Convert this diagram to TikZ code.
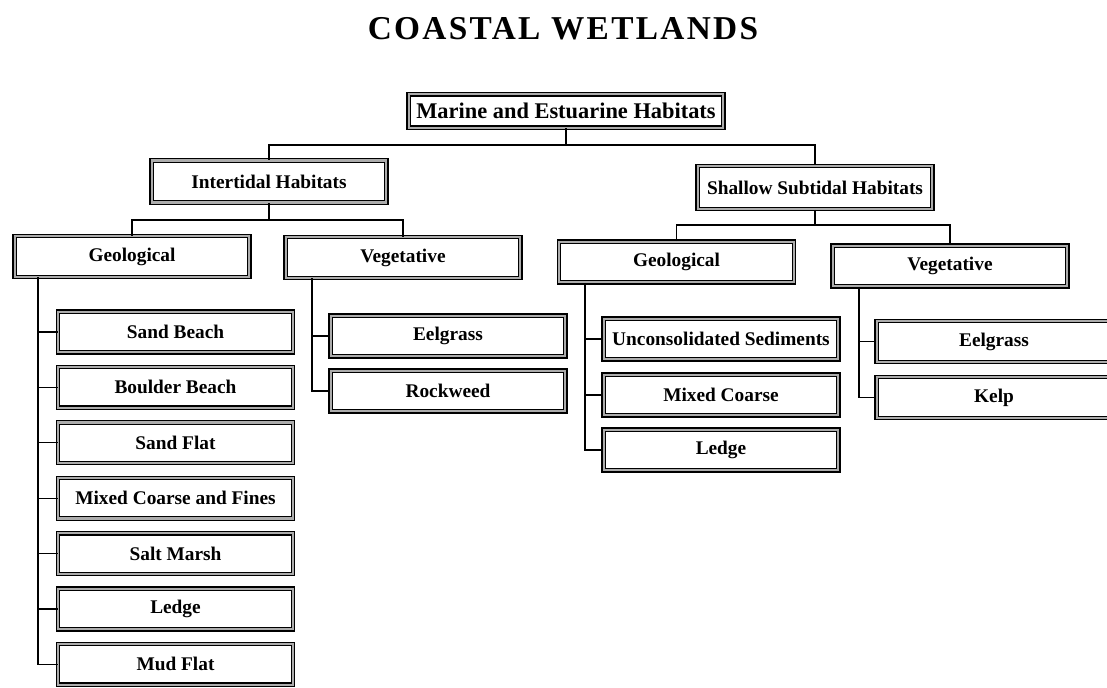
\documentclass[tikz,border=0pt]{standalone}
\usepackage{fontspec}
\setmainfont{Liberation Serif}
\newfontfamily\titlefont[LetterSpace=7]{Liberation Serif}

\begin{document}
\begin{tikzpicture}[x=0.75pt,y=0.75pt,yscale=-1,xscale=1,
    habbox/.style={draw, line width=0.9pt, double=gray!65, double distance=1.6pt,
      fill=white, minimum width=176pt, minimum height=30.5pt, inner sep=0pt,
      font=\fontsize{14.5}{16}\selectfont\bfseries},
    rootbox/.style={habbox, minimum width=236pt, minimum height=25pt,
      font=\fontsize{16.8}{18}\selectfont\bfseries},
    link/.style={line width=1pt}]
    \useasboundingbox (0,0) rectangle (1107,688);
    \clip (0,0) rectangle (1107,688);

    % Title
    \node [anchor=base, font=\titlefont\fontsize{25}{30}\selectfont\bfseries] (title) at (563,40) {COASTAL WETLANDS};

    % Top levels
    \node [rootbox] (root) at (566,111) {Marine and Estuarine Habitats};
    \node [habbox, minimum height=31.5pt] (inter) at (269,181.5) {Intertidal Habitats};
    \node [habbox, minimum height=32.5pt] (shallow) at (815,187.5) {Shallow Subtidal Habitats};

    \node [habbox] (geoI) at (132,256.5) {Geological};
    \node [habbox] (vegI) at (403,257.5) {Vegetative};
    \node [habbox] (geoII) at (676.5,262) {Geological};
    \node [habbox] (vegII) at (950,266) {Vegetative};

    % Leaf boxes
    \foreach \name/\txt [count=\i from 0] in {sandbeach/Sand Beach, boulderbeach/Boulder Beach,
        sandflat/Sand Flat, mixedfines/Mixed Coarse and Fines, saltmarsh/Salt Marsh,
        ledgeI/Ledge, mudflat/Mud Flat}
      \node [habbox] (\name) at (175.5,332+55.4*\i) {\txt};

    \node [habbox] (eelgrassI) at (448,336) {Eelgrass};
    \node [habbox] (rockweed) at (448,391) {Rockweed};

    \node [habbox] (unconsol) at (721,339) {Unconsolidated Sediments};
    \node [habbox] (mixedcoarse) at (721,395) {Mixed Coarse};
    \node [habbox] (ledgeII) at (721,450) {Ledge};

    \node [habbox] (eelgrassII) at (994,341.5) {Eelgrass};
    \node [habbox] (kelp) at (994,397.5) {Kelp};

    % Tree lines
    \coordinate (rootbar) at (566,145);
    \coordinate (interbar) at (269,220);
    \coordinate (shallowbar) at (815,225);
    \draw [link] (root.south) -- (rootbar);
    \draw [link] (inter.north) |- (rootbar) -| (shallow.north);
    \draw [link] (inter.south) -- (interbar);
    \draw [link] (geoI.north) |- (interbar) -| (vegI.north);
    \draw [link] (shallow.south) -- (shallowbar);
    \draw [link] (geoII.north) |- (shallowbar) -| (vegII.north);

    % Spines
    \draw [link] (geoI.south west) ++(24,0) coordinate (geoIspine) |- (mudflat.west);
    \foreach \c in {sandbeach,boulderbeach,sandflat,mixedfines,saltmarsh,ledgeI}
      \draw [link] (geoIspine |- \c.west) -- (\c.west);

    \draw [link] (vegI.south west) ++(27,0) coordinate (vegIspine) |- (rockweed.west);
    \draw [link] (vegIspine |- eelgrassI.west) -- (eelgrassI.west);

    \draw [link] (geoII.south west) ++(26.5,0) coordinate (geoIIspine) |- (ledgeII.west);
    \foreach \c in {unconsol,mixedcoarse}
      \draw [link] (geoIIspine |- \c.west) -- (\c.west);

    \draw [link] (vegII.south west) ++(27,0) coordinate (vegIIspine) |- (kelp.west);
    \draw [link] (vegIIspine |- eelgrassII.west) -- (eelgrassII.west);
\end{tikzpicture}
\end{document}
